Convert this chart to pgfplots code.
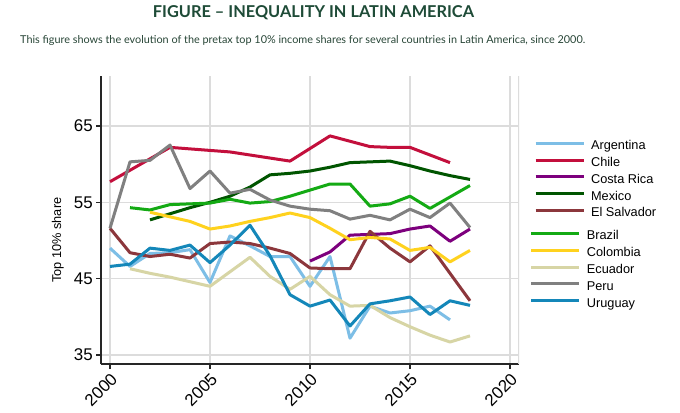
\documentclass[border=0pt]{standalone}
\usepackage{fontspec}
\setmainfont{Liberation Sans}
\newfontfamily\latofont{Lato}
\usepackage{pgfplots}
\pgfplotsset{compat=1.18}
\definecolor{argc}{RGB}{125,190,230}
\definecolor{chilec}{RGB}{195,15,60}
\definecolor{costac}{RGB}{125,0,125}
\definecolor{mexc}{RGB}{0,85,0}
\definecolor{salvc}{RGB}{140,55,60}
\definecolor{brazc}{RGB}{20,170,20}
\definecolor{colc}{RGB}{255,210,30}
\definecolor{ecuc}{RGB}{215,213,165}
\definecolor{peruc}{RGB}{128,128,128}
\definecolor{urugc}{RGB}{20,135,185}
\definecolor{titlegreen}{RGB}{30,75,55}
\definecolor{subgreen}{RGB}{40,70,55}
\definecolor{gridc}{RGB}{220,220,220}
\pgfplotsset{
  myaxis/.style={
    at={(101bp,49bp)}, anchor=south west,
    scale only axis, width=418bp, height=288bp,
    xmin=1999.55, xmax=2020.45, ymin=33.82, ymax=71.55,
    every axis plot/.append style={line width=3bp, line join=round},
    legend image code/.code={\draw[##1] (0bp,3.5bp) -- (48bp,3.5bp);},
    legend cell align=left,
  },
  mylegend/.style={
    draw=none, fill=none, inner sep=0pt, outer sep=0pt,
    font=\fontsize{12.8}{14}\selectfont,
    nodes={inner sep=0pt, text height=9bp, text depth=3bp},
    row sep=4.8bp, column sep=6bp,
  },
}
\begin{document}
\begin{tikzpicture}
\path[use as bounding box, fill=white] (0bp,0bp) rectangle (680bp,413bp);
\node[anchor=center, text=titlegreen, inner sep=0pt] at (313.5bp,400bp)
  {\resizebox{321bp}{!}{\latofont\bfseries FIGURE – INEQUALITY IN LATIN AMERICA}};
\node[anchor=west, text=subgreen, inner sep=0pt] at (20bp,373bp)
  {\resizebox{565bp}{!}{\latofont This figure shows the evolution of the pretax top 10\% income shares for several countries in Latin America, since 2000.}};

\begin{axis}[myaxis,
  axis x line*=bottom, axis y line*=left,
  axis line style={black!85, line width=1.1bp},
  xtick={2000,2005,2010,2015,2020}, ytick={35,45,55,65},
  grid=major, major grid style={gridc, line width=1.3bp},
  tick align=outside, major tick length=5bp,
  tick style={black!85, line width=1.1bp},
  /pgf/number format/assume math mode=true,
  /pgf/number format/1000 sep={},
  xticklabel style={rotate=45, anchor=north east, font=\fontsize{17}{17}\selectfont, inner sep=2bp},
  yticklabel style={font=\fontsize{17}{17}\selectfont, inner sep=3bp},
  ylabel={Top 10\% share},
  every axis y label/.style={at={(axis description cs:-0.103,0.43)}, rotate=90, anchor=center, font=\fontsize{12.8}{14}\selectfont},
  legend style={mylegend, at={(axis description cs:1.036,0.775)}, anchor=north west},
]
\draw[gridc, line width=1.3bp] (rel axis cs:1,0) -- (rel axis cs:1,1);
\addplot[argc] coordinates {(2000,49.0) (2001,46.6) (2002,48.3) (2003,48.4) (2004,48.8) (2005,44.5) (2006,50.6) (2007,49.3) (2008,47.9) (2009,47.9) (2010,44.0) (2011,47.9) (2012,37.2) (2013,41.4) (2014,40.5) (2015,40.8) (2016,41.4) (2017,39.6)};
\addlegendentry{Argentina}
\addplot[chilec] coordinates {(2000,57.7) (2001,59.2) (2002,60.7) (2003,62.2) (2004,62.0) (2005,61.8) (2006,61.6) (2007,61.2) (2008,60.8) (2009,60.4) (2010,62.05) (2011,63.7) (2012,63.0) (2013,62.3) (2014,62.2) (2015,62.2) (2016,61.2) (2017,60.2)};
\addlegendentry{Chile}
\addplot[costac] coordinates {(2010,47.3) (2011,48.5) (2012,50.7) (2013,50.8) (2014,50.9) (2015,51.5) (2016,51.9) (2017,49.9) (2018,51.5)};
\addlegendentry{Costa Rica}
\addplot[mexc] coordinates {(2002,52.7) (2003,53.5) (2004,54.3) (2005,55.0) (2006,55.8) (2007,57.0) (2008,58.6) (2009,58.8) (2010,59.1) (2011,59.6) (2012,60.2) (2013,60.3) (2014,60.4) (2015,59.8) (2016,59.1) (2017,58.5) (2018,58.0)};
\addlegendentry{Mexico}
\addplot[salvc] coordinates {(2000,51.6) (2001,48.4) (2002,47.9) (2003,48.2) (2004,47.7) (2005,49.6) (2006,49.8) (2007,49.6) (2008,49.0) (2009,48.3) (2010,46.4) (2011,46.3) (2012,46.3) (2013,51.2) (2014,49.0) (2015,47.2) (2016,49.3) (2017,45.7) (2018,42.1)};
\addlegendentry{El Salvador}
\end{axis}

\begin{axis}[myaxis, hide axis,
  legend style={mylegend, at={(axis description cs:1.026,0.462)}, anchor=north west},
]
\addplot[brazc] coordinates {(2001,54.3) (2002,54.0) (2003,54.7) (2004,54.8) (2005,54.9) (2006,55.4) (2007,54.9) (2008,55.1) (2009,55.8) (2010,56.6) (2011,57.4) (2012,57.4) (2013,54.5) (2014,54.8) (2015,55.8) (2016,54.2) (2017,55.7) (2018,57.2)};
\addlegendentry{Brazil}
\addplot[colc] coordinates {(2002,53.7) (2003,53.1) (2004,52.5) (2005,51.5) (2006,51.9) (2007,52.5) (2008,53.0) (2009,53.6) (2010,53.0) (2011,51.6) (2012,50.1) (2013,50.4) (2014,50.2) (2015,48.7) (2016,49.1) (2017,47.2) (2018,48.7)};
\addlegendentry{Colombia}
\addplot[ecuc] coordinates {(2001,46.3) (2002,45.7) (2003,45.2) (2004,44.6) (2005,44.0) (2006,45.9) (2007,47.8) (2008,45.3) (2009,43.6) (2010,45.3) (2011,42.9) (2012,41.4) (2013,41.5) (2014,39.9) (2015,38.7) (2016,37.6) (2017,36.7) (2018,37.5)};
\addlegendentry{Ecuador}
\addplot[peruc] coordinates {(2000,51.6) (2001,60.3) (2002,60.5) (2003,62.5) (2004,56.8) (2005,59.1) (2006,56.2) (2007,56.7) (2008,55.3) (2009,54.5) (2010,54.1) (2011,53.9) (2012,52.8) (2013,53.3) (2014,52.7) (2015,54.1) (2016,53.0) (2017,54.9) (2018,51.7)};
\addlegendentry{Peru}
\addplot[urugc] coordinates {(2000,46.6) (2001,46.9) (2002,49.0) (2003,48.7) (2004,49.4) (2005,47.1) (2006,49.4) (2007,52.0) (2008,48.0) (2009,42.9) (2010,41.4) (2011,42.2) (2012,38.8) (2013,41.7) (2014,42.1) (2015,42.6) (2016,40.3) (2017,42.1) (2018,41.5)};
\addlegendentry{Uruguay}
\end{axis}
\end{tikzpicture}
\end{document}
